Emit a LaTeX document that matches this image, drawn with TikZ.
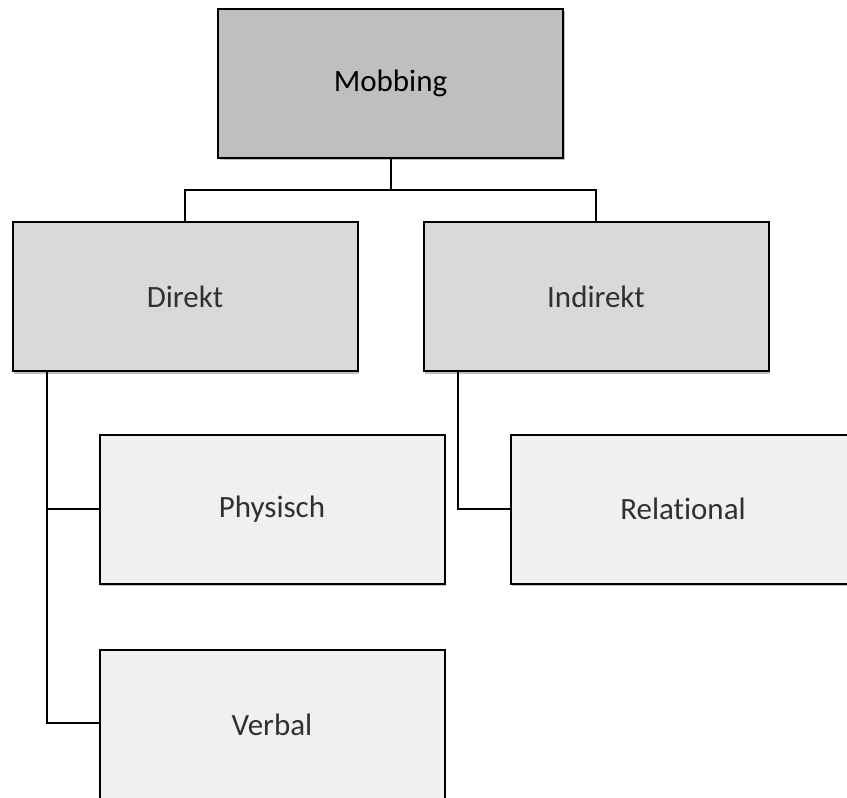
\documentclass[tikz,border=0pt]{standalone}
\usepackage{fontspec}
\setmainfont{Carlito}[RawFeature=-liga]
\usetikzlibrary{shadows}
\definecolor{topfill}{HTML}{BFBFBF}
\definecolor{midfill}{HTML}{D9D9D9}
\definecolor{lowfill}{HTML}{F0F0F0}
\definecolor{lighttext}{HTML}{303030}
\begin{document}
\begin{tikzpicture}[x=1pt,y=-1pt,
  box/.style={draw=black, line width=2pt, rectangle, inner sep=0pt,
    minimum width=345pt, minimum height=149pt, font=\fontsize{31}{37}\selectfont,
    drop shadow={shadow xshift=1.5pt, shadow yshift=-2.5pt, opacity=0.25, fill=black}},
  topbox/.style={box, fill=topfill, text=black},
  midbox/.style={box, fill=midfill, text=lighttext},
  lowbox/.style={box, fill=lowfill, text=lighttext},
  conn/.style={draw=black, line width=2pt}]
\path[use as bounding box, clip] (0,0) rectangle (847,798);
\node[topbox] (m) at (390.5,83) {Mobbing};
\node[midbox] (d) at (185,296.5) {Direkt};
\node[midbox] (i) at (596,296.5) {Indirekt};
\node[lowbox] (p) at (272,509) {Physisch};
\node[lowbox] (r) at (683,509) {Relational};
\node[lowbox] (v) at (272,724.5) {Verbal};
\coordinate (hub) at (390.5,190);
\draw[conn] (m.south) -- (hub) -| (d.north);
\draw[conn] (hub) -| (i.north);
\draw[conn] ([xshift=35pt]d.south west) |- (p.west);
\draw[conn] ([xshift=35pt]d.south west) |- ([yshift=1.5pt]v.west);
\draw[conn] ([xshift=35pt]i.south west) |- (r.west);
\end{tikzpicture}
\end{document}
